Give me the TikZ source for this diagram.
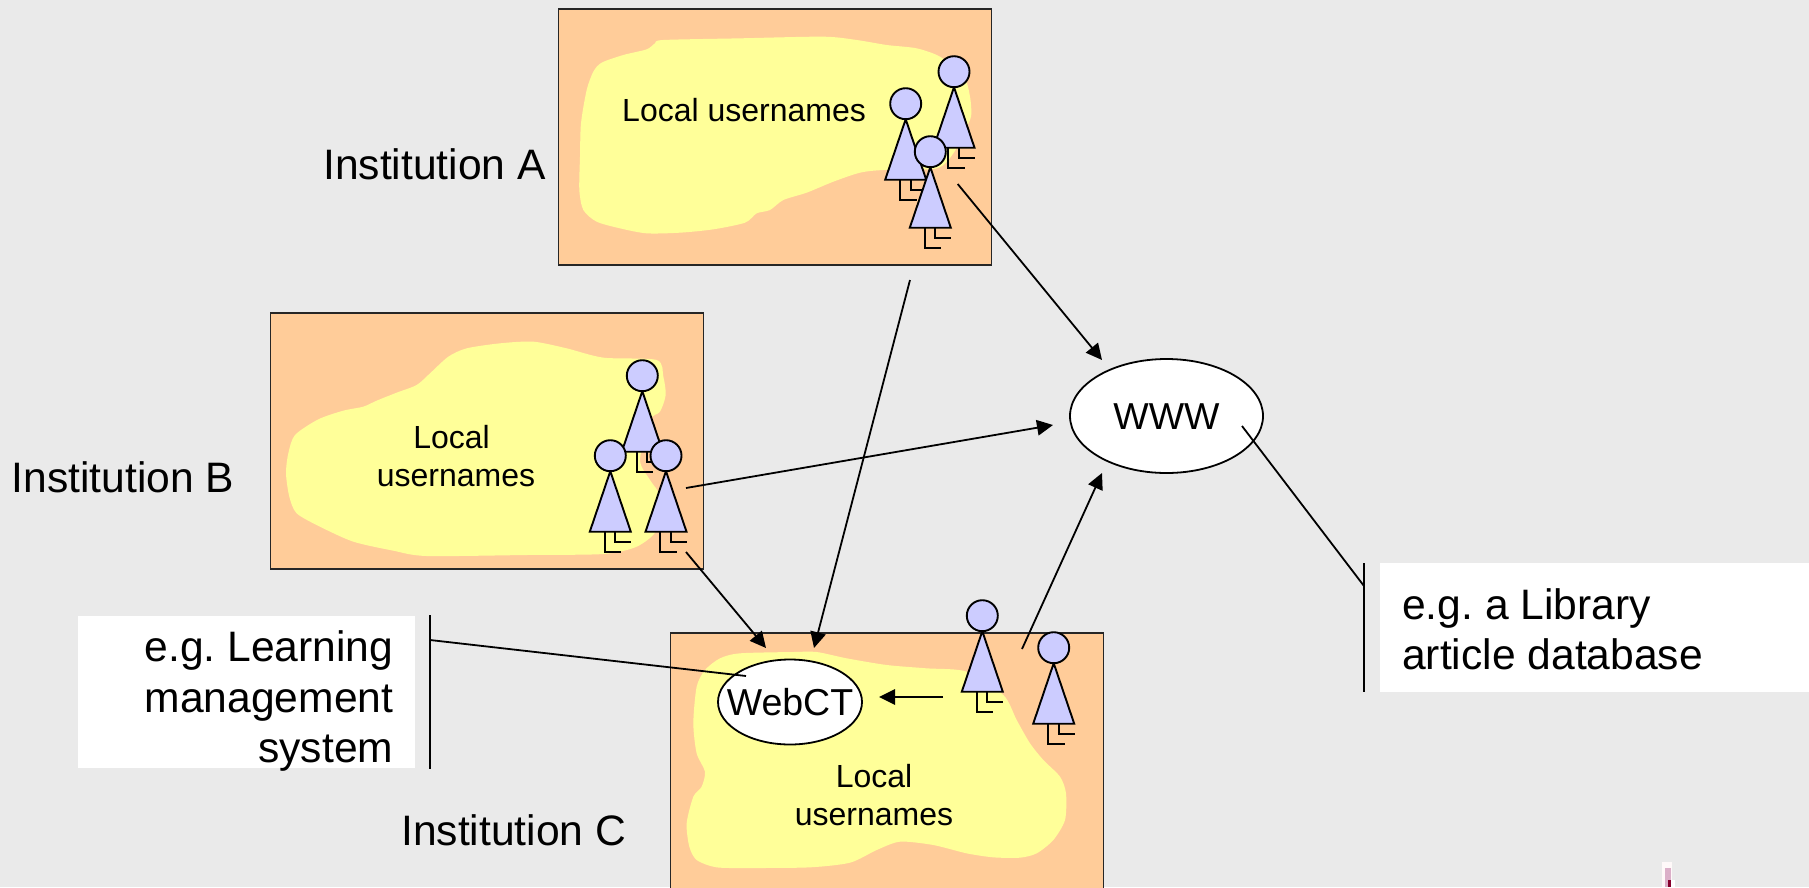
\documentclass[tikz,border=0pt]{standalone}
\usepackage{fontspec}
\setmainfont{Liberation Sans}
\usetikzlibrary{arrows.meta,shapes.geometric}
\frenchspacing
\definecolor{bgc}{HTML}{EAEAEA}
\definecolor{boxc}{HTML}{FFCC99}
\definecolor{blobc}{HTML}{FFFF99}
\definecolor{personc}{HTML}{CCCCFF}
\newcommand{\nettxt}[1]{\makebox[0pt]{\raisebox{-13pt}[0pt][0pt]{#1}}}
\tikzset{
  instbox/.style={draw=black!85,fill=boxc,line width=1.9pt,minimum width=433pt,minimum height=256pt,anchor=north west,inner sep=0pt},
  blobfill/.style={fill=blobc,draw=none},
  bigtext/.style={font=\fontsize{42.6}{50.5}\selectfont,inner sep=0pt},
  midtext/.style={font=\fontsize{32}{37.5}\selectfont,inner sep=0pt},
  nettext/.style={font=\fontsize{37.5}{44}\selectfont},
  netnode/.style={ellipse,draw=black,fill=white,line width=1.8pt,inner sep=0pt},
  link/.style={line width=1.8pt,draw=black},
  arrowlink/.style={link,-{Triangle[length=16pt,width=15.5pt]}},
  personfig/.pic={
    \draw[line width=1.9pt,fill=personc] (0,15.5) -- (20.5,76) -- (-20.5,76) -- cycle;
    \draw[line width=1.9pt,fill=personc] (0,0) circle (15.5);
    \draw[line width=1.9pt] (-5.7,76) -- (-5.7,96) -- (11,96);
    \draw[line width=1.9pt] (5,76) -- (5,86) -- (21,86);
  }
}
\begin{document}
\begin{tikzpicture}[x=1pt,y=-1pt]
\clip (0,0) rectangle (1809,887);
\fill[bgc] (0,0) rectangle (1809,887);

% Institution boxes
\node[instbox] (boxA) at (557.5,8) {};
\node[instbox] (boxB) at (269.5,312) {};
\node[instbox,minimum height=300pt] (boxC) at (669.5,632) {};

% Yellow areas
\begin{scope}[shift={(540,0)},scale=1/3]
\fill[blobfill] plot[smooth cycle,tension=.45] coordinates {(345,130)(370,120)(600,115)(850,110)(950,120)(1040,135)(1130,145)(1200,170)(1270,225)(1290,290)(1293,350)(1270,400)(1240,460)(1190,505)(1030,510)(960,518)(880,545)(800,578)(730,600)(690,630)(650,640)(615,668)(520,688)(420,698)(320,700)(240,685)(170,665)(130,630)(118,570)(120,470)(123,370)(140,270)(160,215)(185,188)(250,165)(320,148)};
\end{scope}
\begin{scope}[shift={(260,300)},scale=1/3]
\fill[blobfill] plot[smooth cycle,tension=.45] coordinates {(105,405)(175,358)(250,332)(310,320)(350,302)(410,278)(470,255)(510,220)(565,170)(620,145)(720,130)(820,125)(920,145)(1030,173)(1190,180)(1210,230)(1217,285)(1200,335)(1170,360)(1140,480)(1170,540)(1200,590)(1190,690)(1130,740)(1030,762)(800,765)(500,768)(400,752)(280,725)(180,680)(110,640)(88,590)(78,520)(85,460)};
\end{scope}
\begin{scope}[shift={(660,580)},scale=1/3]
\fill[blobfill] plot[smooth cycle,tension=.45] coordinates {(240,220)(400,216)(470,216)(560,235)(680,255)(800,265)(920,275)(1030,345)(1070,420)(1110,490)(1150,540)(1200,590)(1218,640)(1215,720)(1180,780)(1130,820)(1080,833)(1000,832)(920,820)(820,795)(720,785)(650,810)(570,848)(450,862)(280,864)(170,862)(110,840)(88,800)(80,730)(100,650)(125,620)(135,575)(110,520)(100,430)(110,320)(135,270)(180,235)};
\end{scope}

% People
\pic (a2) at (954,71.7) {personfig};
\pic (a1) at (905.7,103.7) {personfig};
\pic (a3) at (930.3,151.7) {personfig};
\pic (b1) at (642.3,375.7) {personfig};
\pic (b2) at (610.3,455.7) {personfig};
\pic (b3) at (666,455.7) {personfig};
\pic (c1) at (982.3,615.7) {personfig};
\pic (c2) at (1053.7,647.7) {personfig};

% White label panels
\fill[white] (78,616) rectangle (415,768);
\fill[white] (1380,563) rectangle (1809,692);
\node[bigtext,align=right,anchor=north east] (lms) at (393.5,630.5) {e.g. Learning\\management\\system};
\node[bigtext,align=left,anchor=north west] (libdb) at (1402,588) {e.g. a Library\\article database};

% Services
\node[netnode,nettext,minimum width=193pt,minimum height=114pt] (www) at (1166.5,416) {\nettxt{WWW}};
\node[netnode,nettext,minimum width=144pt,minimum height=85pt] (webct) at (790,702) {\nettxt{WebCT}};

% Texts
\node[bigtext,anchor=base west] (instA) at (323,179) {Institution A};
\node[bigtext,anchor=base west] (instB) at (11.5,492) {Institution B};
\node[bigtext,anchor=base west] (instC) at (401,845) {Institution C};
\node[midtext,anchor=base west] (locA) at (622,121) {Local usernames};
\node[midtext,align=center] (locB) at (456,456) {Local\kern9pt\\usernames};
\node[midtext,align=center] (locC) at (874,795) {Local\\usernames};

% Connector ends
\coordinate (sA) at (957.7,184);
\coordinate (sA2) at (910,280);
\coordinate (sB) at (686,488);
\coordinate (sB2) at (686,552);
\coordinate (sC) at (1022,649);
\coordinate (sC2) at (943,697);
\coordinate (tA) at (1102,360);
\coordinate (tB) at (1053,425);
\coordinate (tC) at (1102,473);
\coordinate (tW1) at (766,648);
\coordinate (tW2) at (814,648);
\coordinate (tW3) at (879,697);
\coordinate (inW) at (746,676);
\coordinate (inWWW) at (1242,426);
\coordinate (barLa) at (430,615);
\coordinate (barLb) at (430,769);
\coordinate (barLm) at (430,640);
\coordinate (barRa) at (1364,563);
\coordinate (barRb) at (1364,692);
\coordinate (barRm) at (1364,586);

% Connectors
\draw[arrowlink] (sA) -- (tA);
\draw[arrowlink] (sA2) -- (tW2);
\draw[arrowlink] (sB) -- (tB);
\draw[arrowlink] (sB2) -- (tW1);
\draw[arrowlink] (sC) -- (tC);
\draw[arrowlink] (sC2) -- (tW3);
\draw[link] (barLm) -- (inW);
\draw[link] (inWWW) -- (barRm);
\draw[link] (barLa) -- (barLb);
\draw[link] (barRa) -- (barRb);

% Small mark in the bottom corner
\fill[white!90!pink] (1662,862) rectangle (1672,887);
\fill[white] (1670,880) rectangle (1675,887);
\fill[black!0!magenta!30!white!70!gray] (1665,868) rectangle (1671,887);
\fill[purple!70!black] (1668,880) rectangle (1670.5,887);
\end{tikzpicture}
\end{document}
